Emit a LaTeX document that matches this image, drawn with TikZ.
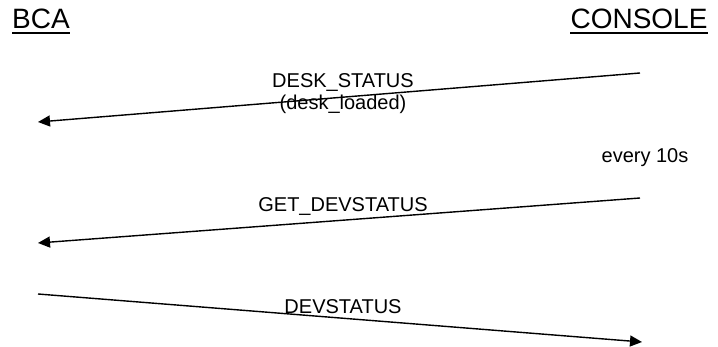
\documentclass[tikz,border=0pt]{standalone}
\usepackage{fontspec}
\setmainfont{Liberation Sans}
\usetikzlibrary{arrows.meta}
\tikzset{
  party/.style={font=\fontsize{28}{30}\selectfont, inner sep=0pt},
  msg/.style={font=\fontsize{20}{22}\selectfont, align=center},
  call/.style={line width=1.4pt, -{Triangle[length=12pt,width=11pt]}}
}
\begin{document}
\begin{tikzpicture}[x=1pt,y=-1pt]
  \useasboundingbox (0,0) rectangle (718,347);
  \node[party, anchor=base] (bca) at (41,29) {BCA};
  \node[party, anchor=base] (console) at (639,29) {CONSOLE};
  % underlines of the two party names
  \draw[line width=2.6pt] ([yshift=-4pt]bca.base west) -- ([yshift=-4pt]bca.base east);
  \draw[line width=2.6pt] ([yshift=-4pt]console.base west) -- ([yshift=-4pt]console.base east);
  \coordinate (c1) at (640,73);
  \coordinate (b1) at (38,122);
  \coordinate (c2) at (640,198);
  \coordinate (b2) at (38,243);
  \coordinate (b3) at (38,294);
  \coordinate (c3) at (642,342);
  \node[msg] (status) at (343,94) {DESK\_STATUS\\(desk\_loaded)};
  \node[msg] (every) at (645,158) {every 10s};
  \node[msg] (getdev) at (343,207) {GET\_DEVSTATUS};
  \node[msg] (devstatus) at (343,307) {DEVSTATUS};
  \draw[call] (c1) -- (b1);
  \draw[call] (c2) -- (b2);
  \draw[call] (b3) -- (c3);
\end{tikzpicture}
\end{document}
